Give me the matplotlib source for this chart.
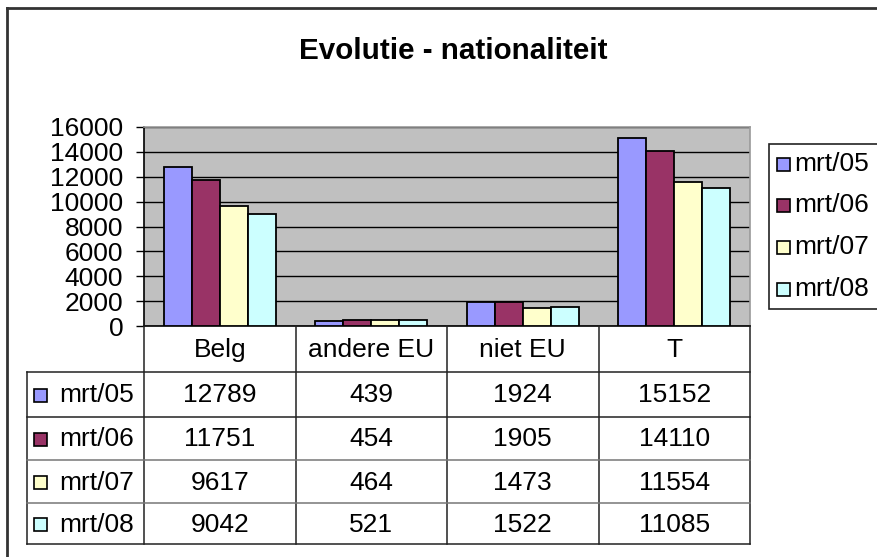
import matplotlib
matplotlib.use("Agg")
import matplotlib.pyplot as plt
from matplotlib.patches import Rectangle
import numpy as np

plt.rcParams['font.family'] = ['Liberation Sans', 'DejaVu Sans']

categories = ["Belg", "andere EU", "niet EU", "T"]
series_names = ["mrt/05", "mrt/06", "mrt/07", "mrt/08"]
mrt05 = [12789, 439, 1924, 15152]
mrt06 = [11751, 454, 1905, 14110]
mrt07 = [9617, 464, 1473, 11554]
mrt08 = [9042, 521, 1522, 11085]
series_values = [mrt05, mrt06, mrt07, mrt08]
colors = ["#9999FF", "#993366", "#FFFFCC", "#CCFFFF"]
yticks = [0, 2000, 4000, 6000, 8000, 10000, 12000, 14000, 16000]
title = "Evolutie - nationaliteit"

W, H = 877, 557
fig = plt.figure(figsize=(W / 100, H / 100), dpi=100)
FS = 19

# plot area in pixels
px0, px1, py0, py1 = 144, 750, 127, 326
ax = fig.add_axes([px0 / W, 1 - py1 / H, (px1 - px0) / W, (py1 - py0) / H])
ax.set_facecolor("#C0C0C0")
n = len(categories)
x = np.arange(n)
bw = 0.185
for i, (vals, c) in enumerate(zip(series_values, colors)):
    ax.bar(x + (i - 1.5) * bw, vals, width=bw, color=c, edgecolor="black",
           linewidth=1.3, zorder=3)
ax.set_xlim(-0.5, n - 0.5)
ax.set_ylim(yticks[0], yticks[-1])
ax.set_yticks(yticks)
ax.set_yticklabels([str(t) for t in yticks], fontsize=FS)
ax.set_xticks([])
ax.yaxis.grid(True, color="black", linewidth=1.0, zorder=1)
ax.set_axisbelow(True)
ax.tick_params(axis="y", length=6, width=1, pad=9, direction="out")
ax.spines["left"].set_color("black")
ax.spines["bottom"].set_color("black")
ax.spines["top"].set_color("#9a9a9a")
ax.spines["right"].set_color("#9a9a9a")
for s in ax.spines.values():
    s.set_linewidth(1.2)

# overlay in pixel coordinates
ov = fig.add_axes([0, 0, 1, 1], zorder=5)
ov.set_xlim(0, W)
ov.set_ylim(H, 0)
ov.axis("off")
ov.patch.set_alpha(0)

# outer chart border
ov.plot([7, W + 5], [8, 8], color="#333333", lw=2, clip_on=False)
ov.plot([7, 7], [8, H + 5], color="#333333", lw=2, clip_on=False)

# title
ov.text(453, 51, title, ha="center", va="center",
        fontsize=21.3, fontweight="bold")

# data table
col_edges = [px0 + (px1 - px0) * k / n for k in range(n + 1)]
tab_left = 27
row_edges = [372, 417, 460, 503, 544]
lc = "#222222"
for xe in col_edges:
    ov.plot([xe, xe], [py1, row_edges[-1]], color=lc, lw=1.1)
ov.plot([tab_left, tab_left], [row_edges[0], row_edges[-1]], color=lc, lw=1.1)
for k, ye in enumerate(row_edges):
    colr = lc if k < 2 or k == len(row_edges) - 1 else "#777777"
    ov.plot([tab_left, px1], [ye, ye], color=colr, lw=1.1)
for j, cat in enumerate(categories):
    ov.text((col_edges[j] + col_edges[j + 1]) / 2, (py1 + row_edges[0]) / 2 + 1,
            cat, ha="center", va="center", fontsize=FS)
for i, (name, vals, c) in enumerate(zip(series_names, series_values, colors)):
    yc = (row_edges[i] + row_edges[i + 1]) / 2 + 1
    ov.add_patch(Rectangle((34, yc - 6.5), 13, 13, facecolor=c, edgecolor="black", lw=1.2))
    ov.text(59, yc, name, ha="left", va="center", fontsize=FS)
    for j, v in enumerate(vals):
        ov.text((col_edges[j] + col_edges[j + 1]) / 2, yc, str(v),
                ha="center", va="center", fontsize=FS)

# legend
ov.add_patch(Rectangle((769, 144), 200, 165, facecolor="white", edgecolor="#222222",
                       lw=1.2, clip_on=True))
leg_y = [164, 205, 247, 289]
for name, c, yy in zip(series_names, colors, leg_y):
    ov.add_patch(Rectangle((777, yy - 6.5), 13, 13, facecolor=c, edgecolor="black", lw=1.2))
    ov.text(794, yy, name, ha="left", va="center", fontsize=FS)

fig.savefig("out.png", dpi=100)
